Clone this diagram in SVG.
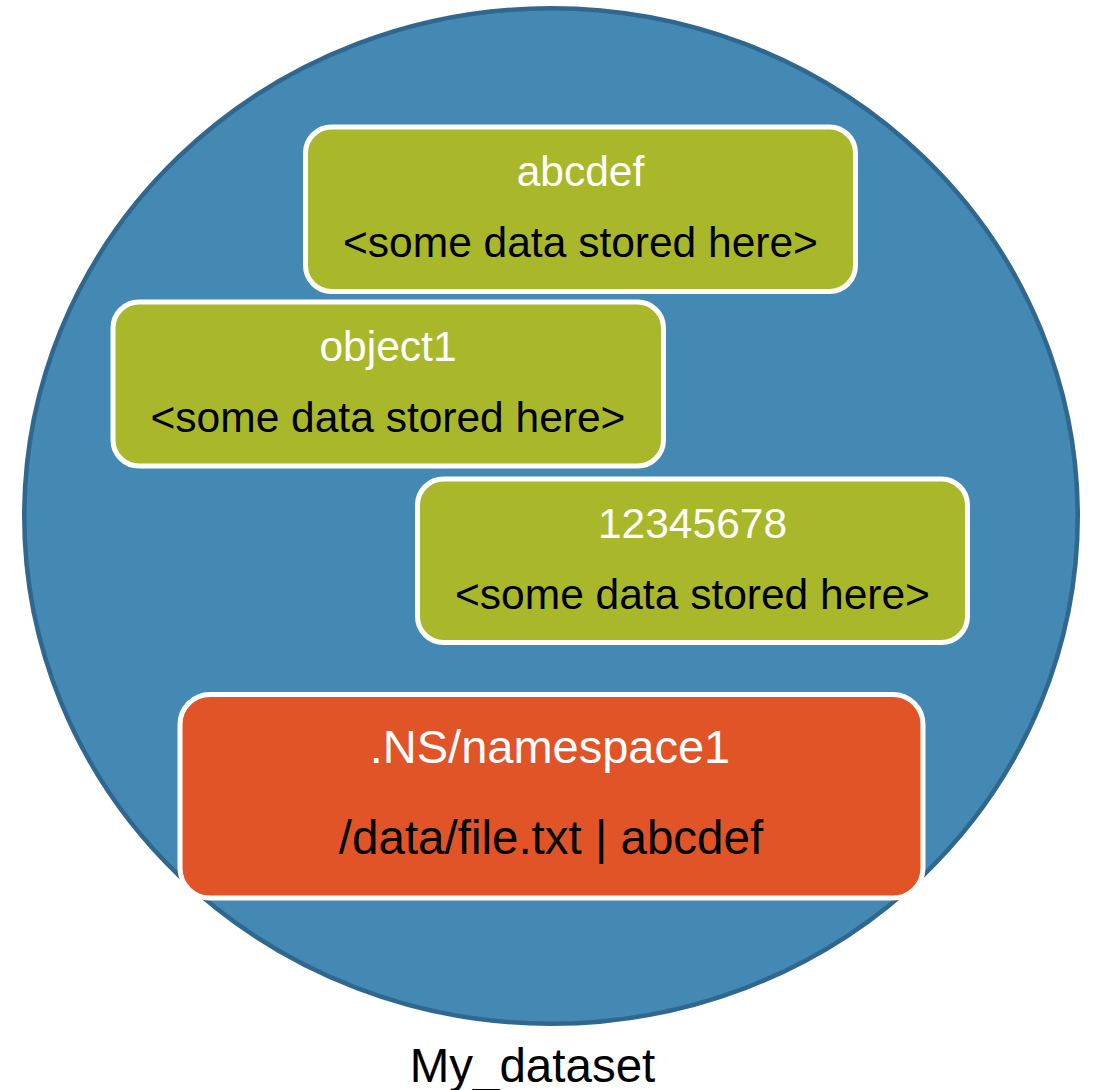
<svg xmlns="http://www.w3.org/2000/svg" width="1094" height="1090" viewBox="0 0 1094 1090">
  <style>
    text { font-family: "Liberation Sans", Arial, sans-serif; text-anchor: middle; }
    .dataset { fill: #4389b4; stroke: #2f678e; stroke-width: 4.5; }
    .obj { fill: #a8b82a; stroke: #ffffff; stroke-width: 5; }
    .ns { fill: #e05427; stroke: #ffffff; stroke-width: 5; }
    .key { fill: #ffffff; font-size: 42.5px; }
    .val { fill: #000000; font-size: 42.5px; }
    .nskey { fill: #ffffff; font-size: 47px; }
    .nsval { fill: #000000; font-size: 47.5px; }
    .label { fill: #000000; font-size: 47.5px; }
  </style>

  <!-- dataset container -->
  <g id="dataset">
    <ellipse class="dataset" cx="551" cy="516" rx="526.75" ry="507.75"/>
    <text class="label" x="532.5" y="1082">My_dataset</text>
  </g>

  <!-- objects stored in the dataset -->
  <g id="obj-abcdef">
    <rect class="obj" x="305.5" y="127" width="550" height="164.5" rx="26" ry="26"/>
    <text class="key" x="580.5" y="186">abcdef</text>
    <text class="val" x="580.5" y="257">&lt;some data stored here&gt;</text>
  </g>

  <g id="obj-object1">
    <rect class="obj" x="113" y="302" width="550.5" height="164" rx="26" ry="26"/>
    <text class="key" x="388" y="361">object1</text>
    <text class="val" x="388" y="432">&lt;some data stored here&gt;</text>
  </g>

  <g id="obj-12345678">
    <rect class="obj" x="417.5" y="479" width="550" height="163.5" rx="26" ry="26"/>
    <text class="key" x="692.5" y="538">12345678</text>
    <text class="val" x="692.5" y="609">&lt;some data stored here&gt;</text>
  </g>

  <!-- namespace object -->
  <g id="ns-namespace1">
    <rect class="ns" x="180" y="694.5" width="743" height="203.5" rx="30" ry="30"/>
    <text class="nskey" x="550" y="763">.NS/namespace1</text>
    <text class="nsval" x="551" y="854">/data/file.txt | abcdef</text>
  </g>

  <g id="connectors"/>
</svg>
